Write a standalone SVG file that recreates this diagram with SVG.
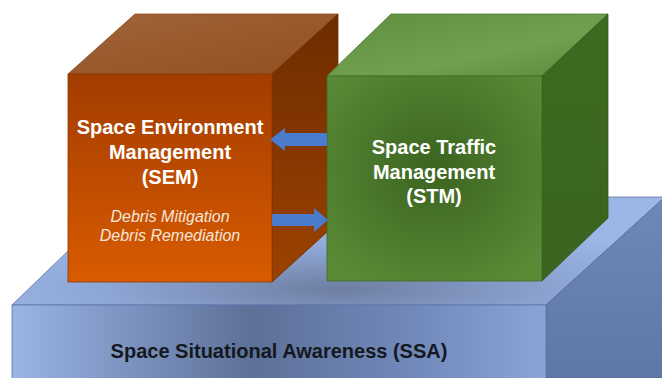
<svg xmlns="http://www.w3.org/2000/svg" width="662" height="378" viewBox="0 0 662 378">
<style>
.t{font-family:"Liberation Sans",Arial,sans-serif;font-weight:bold;font-size:20px;fill:#ffffff;text-anchor:middle}
.i{font-family:"Liberation Sans",Arial,sans-serif;font-style:italic;font-size:16px;fill:#f4e6dc;text-anchor:middle}
.s{font-family:"Liberation Sans",Arial,sans-serif;font-weight:bold;font-size:20px;fill:#141820;text-anchor:middle}
.arrow{fill:#4a7bcc}
.edge{stroke-width:0.8;stroke-linejoin:round}
</style>
<defs>
<linearGradient id="ssaFront" x1="0" y1="0" x2="1" y2="0">
<stop offset="0" stop-color="#9ab4e4"/>
<stop offset="0.45" stop-color="#5d7098"/>
<stop offset="0.75" stop-color="#7189ba"/>
<stop offset="1" stop-color="#8aa4d6"/>
</linearGradient>
<radialGradient id="ssaTop" cx="0.5" cy="0.85" r="0.6">
<stop offset="0" stop-color="#6e7ea2"/>
<stop offset="0.6" stop-color="#8ea6d4"/>
<stop offset="1" stop-color="#9cb6e6"/>
</radialGradient>
<linearGradient id="ssaRight" x1="0" y1="0" x2="0" y2="1">
<stop offset="0" stop-color="#7088b8"/>
<stop offset="1" stop-color="#5f77a6"/>
</linearGradient>
<linearGradient id="semFront" x1="0" y1="0" x2="0" y2="1">
<stop offset="0" stop-color="#a23c00"/>
<stop offset="1" stop-color="#d95b00"/>
</linearGradient>
<linearGradient id="semTop" x1="0" y1="0" x2="1" y2="1">
<stop offset="0" stop-color="#a0633a"/>
<stop offset="1" stop-color="#93501f"/>
</linearGradient>
<linearGradient id="semRight" x1="0" y1="0" x2="0" y2="1">
<stop offset="0" stop-color="#6e2c00"/>
<stop offset="1" stop-color="#9c4200"/>
</linearGradient>
<radialGradient id="stmFront" cx="0.5" cy="0.45" r="0.65">
<stop offset="0" stop-color="#3b6420"/>
<stop offset="1" stop-color="#5a8a36"/>
</radialGradient>
<linearGradient id="stmTop" x1="0" y1="0" x2="1" y2="1">
<stop offset="0" stop-color="#5f8f3e"/>
<stop offset="0.6" stop-color="#70a050"/>
<stop offset="1" stop-color="#5c8a3a"/>
</linearGradient>
<linearGradient id="stmRight" x1="0" y1="0" x2="0" y2="1">
<stop offset="0" stop-color="#3d6a20"/>
<stop offset="1" stop-color="#3a6420"/>
</linearGradient>
</defs>
<rect width="662" height="378" fill="#ffffff"/>
<g id="node-ssa">
<polygon class="edge" points="12,305 546,305 665,197 124,197" fill="url(#ssaTop)" stroke="#5a74a8"/>
<polygon class="edge" points="546,305 665,197 665,378 546,378" fill="url(#ssaRight)" stroke="#4f6899"/>
<rect class="edge" x="12" y="305" width="534" height="80" fill="url(#ssaFront)" stroke="#5a74a8"/>
<text class="s" x="279" y="358">Space Situational Awareness (SSA)</text>
</g>
<g id="node-sem">
<polygon class="edge" points="68,74 135,14 338,14 272,74" fill="url(#semTop)" stroke="#8a4a20"/>
<polygon class="edge" points="272,74 338,14 338,222 272,282" fill="url(#semRight)" stroke="#6a2a00"/>
<rect class="edge" x="68" y="74" width="204" height="208" fill="url(#semFront)" stroke="#8a3a00"/>
<text class="t" x="170" y="134">Space Environment</text>
<text class="t" x="170" y="159">Management</text>
<text class="t" x="170" y="184">(SEM)</text>
<text class="i" x="170" y="222">Debris Mitigation</text>
<text class="i" x="170" y="241">Debris Remediation</text>
</g>
<g id="node-stm">
<polygon class="edge" points="327,76 391,14 608,14 542,76" fill="url(#stmTop)" stroke="#4e7a30"/>
<polygon class="edge" points="542,76 608,14 608,218 542,281" fill="url(#stmRight)" stroke="#335a1a"/>
<rect class="edge" x="327" y="76" width="215" height="205" fill="url(#stmFront)" stroke="#3e6a22"/>
<text class="t" x="434" y="154">Space Traffic</text>
<text class="t" x="434" y="179">Management</text>
<text class="t" x="434" y="203">(STM)</text>
</g>
<g id="connectors">
<polygon class="arrow" points="327,133 285,133 285,128 270,139.5 285,151 285,146 327,146"/>
<polygon class="arrow" points="272,214 314,214 314,208 328,220 314,232 314,226 272,226"/>
</g>
</svg>
